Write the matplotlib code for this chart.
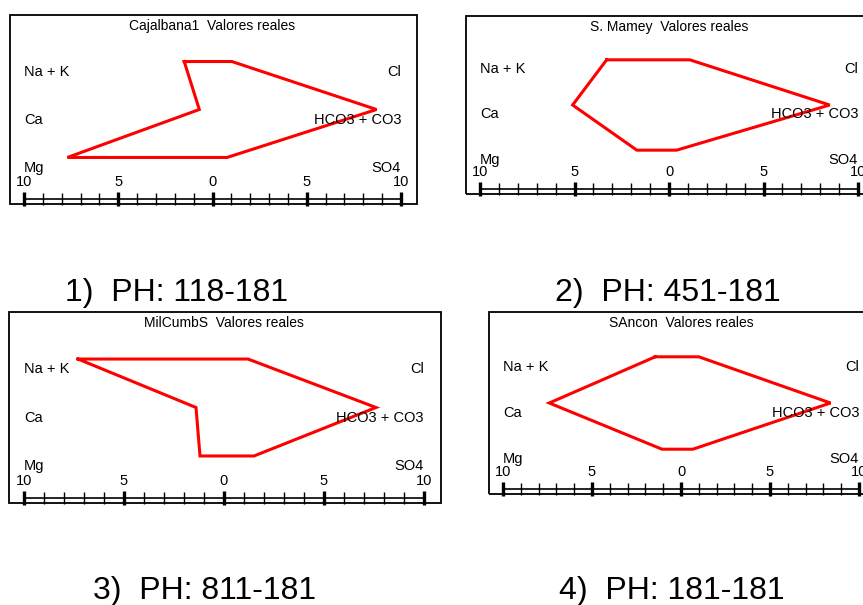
import matplotlib
matplotlib.use("Agg")
import matplotlib.pyplot as plt
from matplotlib.patches import Rectangle
from matplotlib.ticker import MultipleLocator, FuncFormatter
import matplotlib.font_manager as fm

# Data (meq/l)
stations = ["Cajalbana1", "S. Mamey", "MilCumbS", "SAncon"]
captions = ["1)  PH: 118-181", "2)  PH: 451-181", "3)  PH: 811-181", "4)  PH: 181-181"]
na_k = [1.5, 3.3, 7.3, 1.45]
ca = [0.7, 5.1, 1.4, 7.4]
mg = [7.7, 1.7, 1.2, 1.07]
cl = [1.03, 1.1, 1.2, 1.0]
hco3 = [8.7, 8.5, 7.6, 8.4]
so4 = [0.77, 0.4, 1.5, 0.67]
cation_labels = ["Na + K", "Ca", "Mg"]
anion_labels = ["Cl", "HCO3 + CO3", "SO4"]

names = {f.name for f in fm.fontManager.ttflist}
small_font = "Liberation Sans Narrow" if "Liberation Sans Narrow" in names else "Liberation Sans"
plt.rcParams["font.family"] = [small_font, "DejaVu Sans"]

W, H = 863, 605
fig = plt.figure(figsize=(W / 100, H / 100), dpi=100)

# pixel layout: box (left, top, right, bottom), x pixel of -10 and +10
boxes = [(10, 15, 417, 204), (466, 16, 875, 194), (9, 312, 441, 503), (489, 312, 880, 494)]
scales = [(24, 401), (480, 858), (24, 424), (503, 859)]
cap_pos = [(177, 293), (668, 293), (205, 591), (672, 591)]

for i in range(4):
    l, t, r, b = boxes[i]
    x0, x1 = scales[i]
    ax = fig.add_axes([l / W, 1 - b / H, (r - l) / W, (b - t) / H])
    unit = (x1 - x0) / 20.0
    c = (x0 + x1) / 2.0
    ax.set_xlim((l - c) / unit, (r - c) / unit)
    ax.set_ylim(0.03, 3.97)
    ax.set_facecolor("none")

    rows = [3, 2, 1]
    xs = [-na_k[i], -ca[i], -mg[i], so4[i], hco3[i], cl[i], -na_k[i]]
    ys = [3, 2, 1, 1, 2, 3, 3]
    ax.plot(xs, ys, color="#ff0000", lw=2.2, solid_joinstyle="miter")

    for row, lab in zip(rows, cation_labels):
        ax.text(-10.0, row - 0.21, lab, ha="left", va="center", fontsize=10.5)
    for row, lab in zip(rows, anion_labels):
        ax.text(10.0, row - 0.21, lab, ha="right", va="center", fontsize=10.5)

    ax.text(0, 1 - 11 / (b - t), stations[i] + "  Valores reales", transform=ax.get_xaxis_transform(),
            ha="center", va="center", fontsize=10)

    # box frame
    ax.add_patch(Rectangle((0, 0), 1, 1, transform=ax.transAxes, fill=False,
                           lw=1.3, edgecolor="black", clip_on=False))
    for s in ["top", "left", "right"]:
        ax.spines[s].set_visible(False)
    ax.spines["bottom"].set_position(("axes", 5 / (b - t)))
    ax.spines["bottom"].set_bounds(-10, 10)
    ax.spines["bottom"].set_linewidth(1.2)
    ax.xaxis.set_major_locator(MultipleLocator(5))
    ax.xaxis.set_minor_locator(MultipleLocator(1))
    ax.xaxis.set_major_formatter(FuncFormatter(lambda v, p: "%d" % abs(round(v))))
    ax.tick_params(axis="x", which="major", direction="inout", length=10, width=2.4,
                   pad=-22, labelsize=10.5)
    ax.tick_params(axis="x", which="minor", direction="inout", length=9, width=1.0)
    ax.set_yticks([])

    fig.text(cap_pos[i][0] / W, 1 - cap_pos[i][1] / H, captions[i], ha="center", va="center",
             fontsize=23, family="Liberation Sans")

fig.savefig("out.png", dpi=100)
